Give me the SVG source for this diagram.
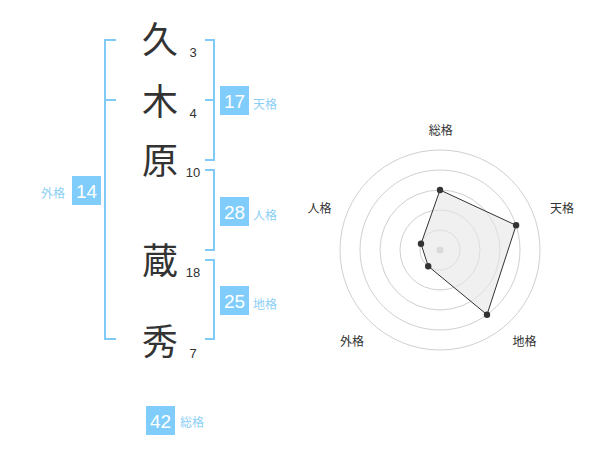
<svg xmlns="http://www.w3.org/2000/svg" width="600" height="470" viewBox="0 0 600 470">
<style>
.kanji{font-family:"Noto Sans CJK JP","Noto Sans CJK SC",sans-serif;font-size:36px;fill:#333;text-anchor:middle}
.num{font-family:"Liberation Sans",Arial,sans-serif;font-size:13px;fill:#333;text-anchor:middle}
.br{fill:none;stroke:#7fcbf6;stroke-width:2}
.box{fill:#80cdfb}
.bt{font-family:"Liberation Sans",Arial,sans-serif;font-size:19px;fill:#fff;text-anchor:middle}
.bl{font-family:"Noto Sans CJK JP",sans-serif;font-size:12px;fill:#8ccff5}
.ring{fill:none;stroke:#d0d0d0;stroke-width:1}
.ax{font-family:"Noto Sans CJK JP",sans-serif;font-size:12px;fill:#333;text-anchor:middle}
.pt{fill:#333}
</style>
<rect width="600" height="470" fill="#fff"/>
<g id="connectors">
<path class="br" d="M116,40 H105 V339 H116 M105,100 H116"/>
<path class="br" d="M205,40 H214 V160 H205 M205,100 H214"/>
<path class="br" d="M205,170 H214 V250 H205"/>
<path class="br" d="M205,260 H214 V339 H205"/>
</g>
<g id="char1"><text class="kanji" x="160" y="53">久</text><text class="num" x="193" y="57">3</text></g>
<g id="char2"><text class="kanji" x="160" y="115">木</text><text class="num" x="193" y="118">4</text></g>
<g id="char3"><text class="kanji" x="160" y="174">原</text><text class="num" x="193" y="177">10</text></g>
<g id="char4"><text class="kanji" x="160" y="274">蔵</text><text class="num" x="193" y="277">18</text></g>
<g id="char5"><text class="kanji" x="160" y="355">秀</text><text class="num" x="193" y="358">7</text></g>
<g id="tenkaku"><rect class="box" x="220" y="86" width="29" height="29"/><text class="bt" x="234.5" y="107.5">17</text><text class="bl" x="253" y="109">天格</text></g>
<g id="jinkaku"><rect class="box" x="220" y="197" width="29" height="29"/><text class="bt" x="234.5" y="218.5">28</text><text class="bl" x="253" y="220">人格</text></g>
<g id="chikaku"><rect class="box" x="220" y="286" width="29" height="29"/><text class="bt" x="234.5" y="307.5">25</text><text class="bl" x="253" y="309">地格</text></g>
<g id="gaikaku"><rect class="box" x="72" y="176" width="29" height="29"/><text class="bt" x="86.5" y="197.5">14</text><text class="bl" x="41" y="198">外格</text></g>
<g id="soukaku"><rect class="box" x="146" y="406" width="29" height="29"/><text class="bt" x="160.5" y="427.5">42</text><text class="bl" x="180" y="427">総格</text></g>
<g id="radar">
<circle class="ring" cx="440" cy="250" r="20"/>
<circle class="ring" cx="440" cy="250" r="40"/>
<circle class="ring" cx="440" cy="250" r="60"/>
<circle class="ring" cx="440" cy="250" r="80"/>
<circle class="ring" cx="440" cy="250" r="100"/>
<circle cx="440" cy="250" r="3.5" fill="#c8c8c8"/>
<polygon points="440.0,190.0 516.1,225.3 487.0,314.7 428.2,266.2 421.0,243.8" fill="#e6e6e6" fill-opacity="0.6" stroke="#333" stroke-width="1"/>
<circle class="pt" cx="440.0" cy="190.0" r="3.2"/>
<circle class="pt" cx="516.1" cy="225.3" r="3.2"/>
<circle class="pt" cx="487.0" cy="314.7" r="3.2"/>
<circle class="pt" cx="428.2" cy="266.2" r="3.2"/>
<circle class="pt" cx="421.0" cy="243.8" r="3.2"/>
<text class="ax" x="440.7" y="135">総格</text>
<text class="ax" x="562" y="212.5">天格</text>
<text class="ax" x="524.5" y="346">地格</text>
<text class="ax" x="352" y="346">外格</text>
<text class="ax" x="319.5" y="212.5">人格</text>
</g>
</svg>
